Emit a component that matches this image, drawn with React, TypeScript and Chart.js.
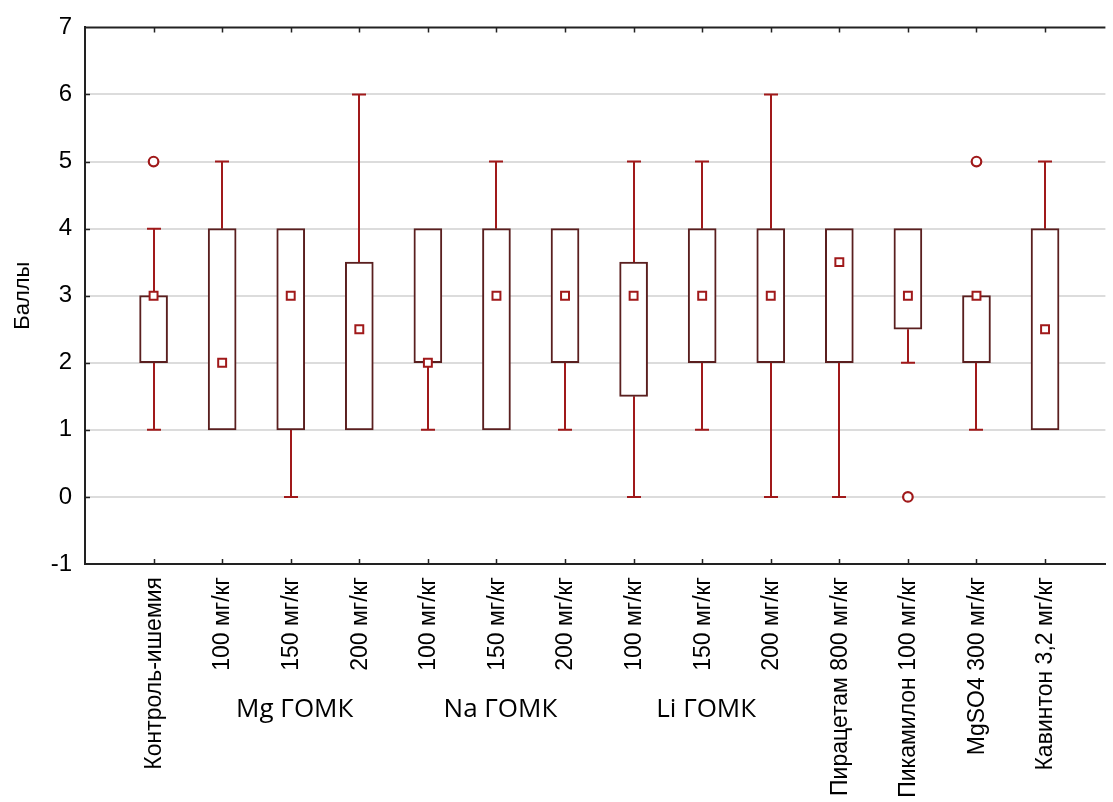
import React, { useEffect, useRef } from "react";
import { Chart, registerables } from "chart.js";
Chart.register(...registerables);

// ---- data ----
const categories = [
  "Контроль-ишемия",
  "100 мг/кг",
  "150 мг/кг",
  "200 мг/кг",
  "100 мг/кг",
  "150 мг/кг",
  "200 мг/кг",
  "100 мг/кг",
  "150 мг/кг",
  "200 мг/кг",
  "Пирацетам 800 мг/кг",
  "Пикамилон 100 мг/кг",
  "MgSO4 300 мг/кг",
  "Кавинтон 3,2 мг/кг",
];
const medians = [3, 2, 3, 2.5, 2, 3, 3, 3, 3, 3, 3.5, 3, 3, 2.5];
const q1 = [2, 1, 1, 1, 2, 1, 2, 1.5, 2, 2, 2, 2.5, 2, 1];
const q3 = [3, 4, 4, 3.5, 4, 4, 4, 3.5, 4, 4, 4, 4, 3, 4];
const whiskerMin = [1, 1, 0, 1, 1, 1, 1, 0, 1, 0, 0, 2, 1, 1];
const whiskerMax = [4, 5, 4, 6, 4, 5, 4, 5, 5, 6, 4, 4, 3, 5];
const outlierCategory = [1, 12, 13];
const outlierValue = [5, 0, 5];
const groupNames = ["Mg ГОМК", "Na ГОМК", "Li ГОМК"];
const groupMembers = [
  [2, 3, 4],
  [5, 6, 7],
  [8, 9, 10],
];
const yMin = -1;
const yMax = 7;

const BOX_COLOR = "#5a1f1f";
const RED = "#a0191a";
const AXIS = "#222222";
const FONT = "'Liberation Sans', Arial, sans-serif";

export default function App() {
  const ref = useRef<HTMLCanvasElement>(null);

  useEffect(() => {
    const canvas = ref.current!;

    const whiskerPlugin = {
      id: "whiskers",
      beforeDatasetsDraw(chart: any) {
        const { ctx, scales } = chart;
        const x = scales.x;
        const y = scales.y;
        ctx.save();
        ctx.strokeStyle = RED;
        ctx.lineWidth = 2;
        categories.forEach((_, i) => {
          const px = Math.round(x.getPixelForValue(i + 1));
          const segs = [
            [q3[i], whiskerMax[i]],
            [q1[i], whiskerMin[i]],
          ];
          for (const [a, b] of segs) {
            if (a === b) continue;
            const ya = y.getPixelForValue(a);
            const yb = y.getPixelForValue(b);
            ctx.beginPath();
            ctx.moveTo(px, ya);
            ctx.lineTo(px, yb);
            ctx.moveTo(px - 7, yb);
            ctx.lineTo(px + 7, yb);
            ctx.stroke();
          }
        });
        ctx.restore();
      },
    };

    const framePlugin = {
      id: "frame",
      afterDraw(chart: any) {
        const { ctx, chartArea, scales } = chart;
        const x = scales.x;
        const y = scales.y;
        ctx.save();
        ctx.strokeStyle = AXIS;
        ctx.lineWidth = 2;
        ctx.beginPath();
        ctx.moveTo(chartArea.left - 1, chartArea.top);
        ctx.lineTo(chartArea.right, chartArea.top);
        ctx.stroke();
        ctx.lineWidth = 1.5;
        categories.forEach((_, i) => {
          const px = Math.round(x.getPixelForValue(i + 1)) + 0.5;
          ctx.beginPath();
          ctx.moveTo(px, chartArea.top);
          ctx.lineTo(px, chartArea.top + 5);
          ctx.moveTo(px, chartArea.bottom);
          ctx.lineTo(px, chartArea.bottom - 5);
          ctx.stroke();
        });
        for (let v = yMin + 1; v < yMax; v++) {
          const py = Math.round(y.getPixelForValue(v)) + 0.5;
          ctx.beginPath();
          ctx.moveTo(chartArea.left, py);
          ctx.lineTo(chartArea.left + 5, py);
          ctx.stroke();
        }
        // category labels (rotated)
        ctx.fillStyle = "#000";
        ctx.font = `23px ${FONT}`;
        ctx.textAlign = "right";
        ctx.textBaseline = "middle";
        categories.forEach((label, i) => {
          const px = x.getPixelForValue(i + 1);
          ctx.save();
          ctx.translate(px + 1, chartArea.bottom + 13);
          ctx.rotate(-Math.PI / 2);
          ctx.fillText(label, 0, 0);
          ctx.restore();
        });
        // group labels
        ctx.font = "26px 'Open Sans', sans-serif";
        ctx.textAlign = "center";
        ctx.textBaseline = "middle";
        groupNames.forEach((name, g) => {
          const members = groupMembers[g];
          const mid = members.reduce((s, v) => s + v, 0) / members.length;
          ctx.fillText(name, x.getPixelForValue(mid) + 4, 710);
        });
        ctx.restore();
      },
    };

    const chart = new Chart(canvas, {
      type: "bar",
      data: {
        datasets: [
          {
            type: "scatter",
            label: "outliers",
            data: outlierCategory.map((c, i) => ({ x: c, y: outlierValue[i] })),
            pointStyle: "circle",
            pointRadius: 4.8,
            pointBorderWidth: 2.2,
            pointBorderColor: RED,
            pointBackgroundColor: "#ffffff",
            order: 0,
          } as any,
          {
            type: "scatter",
            label: "median",
            data: medians.map((m, i) => ({ x: i + 1, y: m })),
            pointStyle: "rect",
            pointRadius: 5.6,
            pointBorderWidth: 2,
            pointBorderColor: RED,
            pointBackgroundColor: "#ffffff",
            order: 1,
          } as any,
          {
            type: "bar",
            label: "box",
            data: q1.map((a, i) => ({ x: i + 1, y: [a, q3[i]] })),
            backgroundColor: "#ffffff",
            borderColor: BOX_COLOR,
            borderWidth: 2,
            borderSkipped: false,
            barThickness: 28,
            grouped: false,
            order: 2,
          } as any,
        ],
      },
      options: {
        responsive: false,
        animation: false,
        events: [],
        layout: { padding: { top: 24, left: 0, right: 0, bottom: 0 } },
        plugins: {
          legend: { display: false },
          tooltip: { enabled: false },
        },
        scales: {
          x: {
            type: "linear",
            min: 0,
            max: 14.88,
            offset: false,
            grid: { display: false, drawTicks: false, offset: false },
            border: { display: true, color: AXIS, width: 2 },
            afterBuildTicks: (scale: any) => {
              scale.ticks = categories.map((_, i) => ({ value: i + 1 }));
            },
            afterFit: (scale: any) => {
              scale.height = 238;
            },
            ticks: { display: false },
          },
          y: {
            type: "linear",
            min: yMin,
            max: yMax,
            afterFit: (scale: any) => {
              scale.width = 85;
            },
            grid: {
              drawTicks: false,
              lineWidth: 2,
              color: (c: any) =>
                c.tick && (c.tick.value === yMin || c.tick.value === yMax)
                  ? "rgba(0,0,0,0)"
                  : "#dcdcdc",
            },
            border: { display: true, color: AXIS, width: 2 },
            ticks: {
              stepSize: 1,
              padding: 13,
              color: "#000",
              font: { family: FONT, size: 24 },
            },
            title: {
              display: true,
              text: "Баллы",
              color: "#000",
              font: { family: FONT, size: 22 },
              padding: { top: 10, bottom: 0 },
            },
          },
        },
      },
      plugins: [whiskerPlugin, framePlugin],
    });

    return () => chart.destroy();
  }, []);

  return (
    <div style={{ position: "absolute", left: 0, top: 0, width: 1113, height: 802, background: "#fff" }}>
      <canvas ref={ref} width={1113} height={802} style={{ display: "block" }} />
    </div>
  );
}
